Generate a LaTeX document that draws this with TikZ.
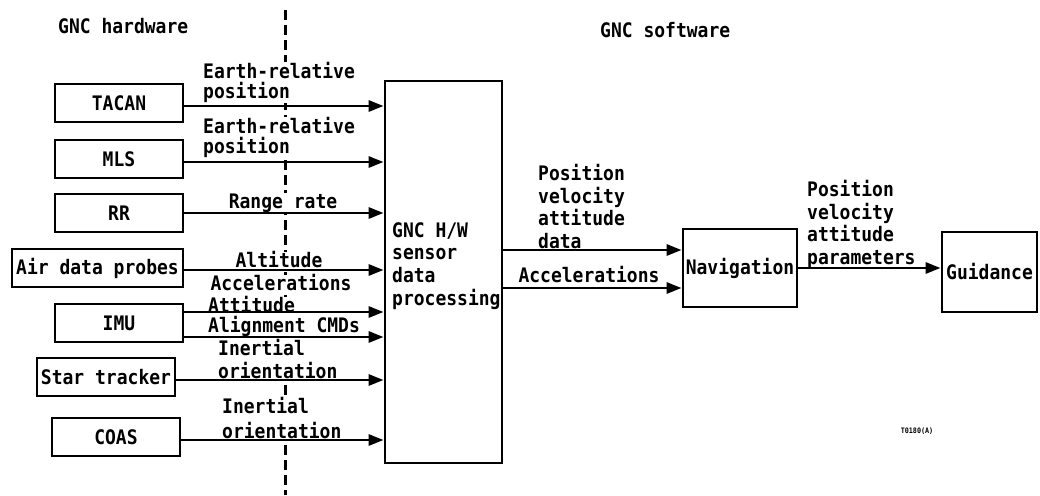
\documentclass[tikz,border=0pt]{standalone}
\usepackage{fontspec}
\newfontfamily\gncfont{DejaVu Sans Mono}[FakeStretch=0.9]
\usetikzlibrary{arrows.meta}
\begin{document}
\begin{tikzpicture}[x=1pt,y=-1pt,
  every node/.style={font=\gncfont\bfseries\fontsize{20}{22}\selectfont, inner sep=0pt},
  blk/.style={draw, line width=2.8pt, minimum width=#1, minimum height=38pt},
  arr/.style={line width=2.8pt, -{Triangle[length=15pt,width=11pt]}},
  lbl/.style={fill=white, text height=15pt, text depth=4.5pt},
  mlbl/.style={fill=white, align=left, anchor=north west},
  dashline/.style={line width=3pt, dash pattern=on 10pt off 5pt}
]
\useasboundingbox (0,0) rectangle (1040,495);
% dashed hardware/software divider
\coordinate (dtop) at (285,10);
\coordinate (dbot) at (285,495);
\draw[dashline] (dtop) -- (dbot);

% headings
\node[lbl, anchor=west] (hw) at (58,28) {GNC hardware};
\node[lbl, anchor=west] (sw) at (600,32) {GNC software};

% labels on the hardware side
\node[mlbl, font=\gncfont\bfseries\fontsize{20}{20}\selectfont] (tacanlbl) at (203,62) {Earth-relative\\position};
\node[mlbl, font=\gncfont\bfseries\fontsize{20}{20}\selectfont] (mlslbl) at (203,117) {Earth-relative\\position};
\node[lbl] (rrlbl) at (283,203) {Range rate};
\node[lbl] (altlbl) at (279,262) {Altitude};
\node[lbl] (acclbl) at (281,285) {Accelerations};
\node[lbl, anchor=west] (attlbl) at (208,307) {Attitude};
\node[lbl, anchor=west] (alnlbl) at (208,327) {Alignment CMDs};
\node[mlbl, font=\gncfont\bfseries\fontsize{20}{23}\selectfont] (starlbl) at (218,339) {Inertial\\orientation};
\node[mlbl, font=\gncfont\bfseries\fontsize{20}{25}\selectfont] (coaslbl) at (222,397) {Inertial\\orientation};

% hardware boxes
\node[blk=128pt] (tacan) at (119,103) {TACAN};
\node[blk=128pt] (mls) at (119,159) {MLS};
\node[blk=128pt] (rr) at (119,213) {RR};
\node[blk=171pt] (air) at (97.5,268) {Air data probes};
\node[blk=128pt] (imu) at (119,323) {IMU};
\node[blk=138pt] (star) at (106,377) {Star tracker};
\node[blk=128pt] (coas) at (116,437) {COAS};

% software boxes
\node[draw, line width=2.8pt, minimum width=117pt, minimum height=382pt] (proc) at (443.5,272) {};
\node[anchor=north west, align=left, font=\gncfont\bfseries\fontsize{20}{22.7}\selectfont] (proctxt) at (392,222) {GNC H/W\\sensor\\data\\processing};
\node[blk=114pt, minimum height=78pt] (nav) at (740,268) {Navigation};
\node[blk=95pt, minimum height=80pt] (guid) at (989.5,272) {Guidance};

% software-side labels
\node[mlbl, font=\gncfont\bfseries\fontsize{20}{22.7}\selectfont] (pvad) at (538,164) {Position\\velocity\\attitude\\data};
\node[lbl] (acc2) at (589,277) {Accelerations};
\node[mlbl, font=\gncfont\bfseries\fontsize{20}{22.7}\selectfont] (pvap) at (807,180) {Position\\velocity\\attitude\\parameters};
\node[font=\gncfont\bfseries\fontsize{7.5}{8}\selectfont] (tag) at (917,431) {T0180(A)};

% connectors
\draw[arr] ([yshift=-3pt]tacan.east) -- ([yshift=-3pt]tacan.east -| proc.west);
\draw[arr] ([yshift=-3pt]mls.east) -- ([yshift=-3pt]mls.east -| proc.west);
\draw[arr] (rr.east) -- (rr.east -| proc.west);
\draw[arr] ([yshift=-2pt]air.east) -- ([yshift=-2pt]air.east -| proc.west);
\draw[arr] ([yshift=11pt]imu.east) -- ([yshift=11pt]imu.east -| proc.west);
\draw[arr] ([yshift=-14pt]imu.east) -- ([yshift=-14pt]imu.east -| proc.west);
\draw[arr] ([yshift=-3pt]star.east) -- ([yshift=-3pt]star.east -| proc.west);
\draw[arr] ([yshift=-3pt]coas.east) -- ([yshift=-3pt]coas.east -| proc.west);
\draw[arr] ([yshift=18pt]nav.west -| proc.east) -- ([yshift=18pt]nav.west);
\draw[arr] ([yshift=-20pt]nav.west -| proc.east) -- ([yshift=-20pt]nav.west);
\draw[arr] (nav.east) -- (nav.east -| guid.west);
\end{tikzpicture}
\end{document}
